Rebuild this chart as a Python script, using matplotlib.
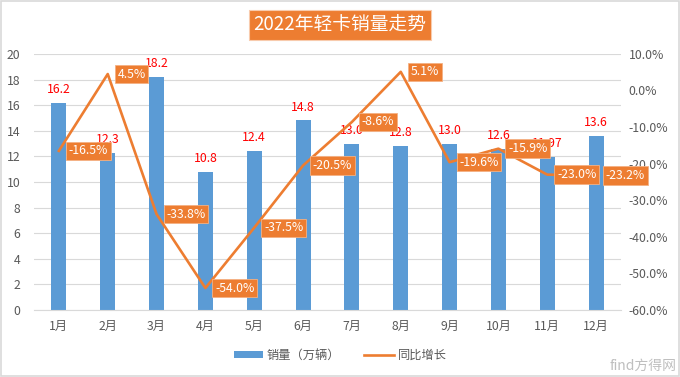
import matplotlib
matplotlib.use("Agg")
import matplotlib.pyplot as plt
from matplotlib.patches import Rectangle

plt.rcParams["font.family"] = ["Noto Sans CJK SC", "DejaVu Sans"]
plt.rcParams["axes.unicode_minus"] = False

months = ["1月", "2月", "3月", "4月", "5月", "6月", "7月", "8月", "9月", "10月", "11月", "12月"]
sales = [16.2, 12.3, 18.2, 10.8, 12.4, 14.8, 13.0, 12.8, 13.0, 12.6, 11.97, 13.6]
sales_labels = ["16.2", "12.3", "18.2", "10.8", "12.4", "14.8", "13.0", "12.8", "13.0", "12.6", "11.97", "13.6"]
growth = [-16.5, 4.5, -33.8, -54.0, -37.5, -20.5, -8.6, 5.1, -19.6, -15.9, -23.0, -23.2]

blue = "#5B9BD5"
orange = "#ED7D31"
gray = "#595959"
fs = 8.8

fig = plt.figure(figsize=(6.8, 3.77), dpi=100)
ax = fig.add_axes([0.0507, 0.1777, 0.8618, 0.6793])
ax2 = ax.twinx()

x = list(range(len(months)))
ax.bar(x, sales, width=0.31, color=blue, label="销量（万辆）", zorder=2)
ax.set_xlim(-0.5, 11.5)
ax.set_ylim(0, 20)
ax.set_yticks(range(0, 21, 2))
ax.set_xticks(x)
ax.set_xticklabels(months)
ax.yaxis.grid(True, color="#D9D9D9", linewidth=0.8, zorder=0)
ax.set_axisbelow(True)
for s in ["top", "left", "right"]:
    ax.spines[s].set_visible(False)
ax.spines["bottom"].set_color("#D9D9D9")
ax.tick_params(axis="y", length=0, labelsize=fs, colors=gray, pad=10)
ax.tick_params(axis="x", length=0, labelsize=fs, colors=gray, pad=7)

for xi, v, lab in zip(x, sales, sales_labels):
    ax.annotate(lab, (xi, v), xytext=(0, 5), textcoords="offset points",
                ha="center", va="bottom", color="#FF0000", fontsize=fs, zorder=3)

ax2.plot(x, growth, color=orange, linewidth=1.9, label="同比增长", zorder=4)
ax2.set_ylim(-60, 10)
ax2.set_yticks(range(-60, 11, 10))
ax2.set_yticklabels([f"{t:.1f}%" for t in range(-60, 11, 10)])
for s in ["top", "left", "right", "bottom"]:
    ax2.spines[s].set_visible(False)
ax2.tick_params(axis="y", length=0, labelsize=fs, colors=gray, pad=6)

for xi, g in zip(x, growth):
    ax2.annotate(f"{g:.1f}%", (xi, g), xytext=(7, 0), textcoords="offset points",
                 ha="left", va="center", color="white", fontsize=fs, zorder=6,
                 bbox=dict(boxstyle="square,pad=0.22", fc=orange, ec="#F4B183", lw=0.6))

h1, l1 = ax.get_legend_handles_labels()
h2, l2 = ax2.get_legend_handles_labels()
fig.legend(h1 + h2, l1 + l2, loc="center", bbox_to_anchor=(0.5, 0.058), ncol=2,
           frameon=False, fontsize=fs, labelcolor=gray, handlelength=2.4,
           columnspacing=2.0, handleheight=0.5, handletextpad=0.3)

fig.text(0.5, 0.934, "2022年轻卡销量走势", ha="center", va="center", color="white",
         fontsize=13.5, bbox=dict(boxstyle="square,pad=0.25", fc=orange, ec="#F8CBAD", lw=0.8))

fig.text(0.995, 0.03, "find方得网", ha="right", va="center", color="#BFBFBF",
         fontsize=10, style="italic")

fig.patches.append(Rectangle((0.002, 0.003), 0.996, 0.994, transform=fig.transFigure,
                             fill=False, ec="#D9D9D9", lw=1.2))

fig.savefig("out.png", dpi=100)
